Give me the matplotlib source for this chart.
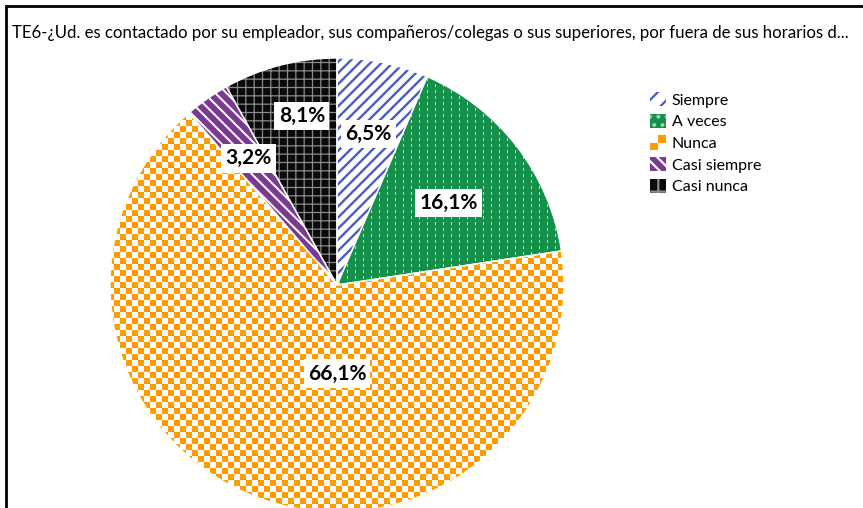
import numpy as np
import matplotlib
matplotlib.use("Agg")
import matplotlib.pyplot as plt
from matplotlib.patches import Patch, Wedge, Rectangle
from matplotlib.lines import Line2D
from matplotlib.legend_handler import HandlerBase

# ---- data ----
categories = ["Siempre", "A veces", "Nunca", "Casi siempre", "Casi nunca"]
values = [6.5, 16.1, 66.1, 3.2, 8.1]
title = ("TE6-¿Ud. es contactado por su empleador, sus compañeros/colegas o sus "
         "superiores, por fuera de sus horarios d...")

# ---- style ----
W, H = 863, 508
plt.rcParams['hatch.linewidth'] = 1.6
fig = plt.figure(figsize=(W / 100, H / 100), dpi=100)
ax = fig.add_axes([0, 0, 1, 1])
ax.set_xlim(0, W)
ax.set_ylim(0, H)
ax.set_aspect('equal')
ax.axis('off')

center = (337, H - 285)
radius = 227

blue = '#4a5cc0'
green = '#14904a'
orange = '#ff9c00'
purple = '#7a3a92'
black = '#0a0a0a'

wedges, _ = ax.pie(values, center=center, radius=radius, startangle=90,
                   counterclock=False, frame=True,
                   wedgeprops=dict(linewidth=0))
ax.set_xlim(0, W)
ax.set_ylim(0, H)
ax.axis('off')

styles = [
    dict(face='white', hatch_col=blue, hatch='///', hlw=1.7),
    dict(face=green, hatch_col=None, hatch=None, hlw=1.0),
    dict(face=orange, hatch_col=None, hatch=None, hlw=1.0),
    dict(face=purple, hatch_col='white', hatch='\\\\\\', hlw=1.4),
    dict(face=black, hatch_col='#8a8a8a', hatch='++', hlw=0.9),
]
for w, st in zip(wedges, styles):
    w.set_facecolor(st['face'])
    w.set_linewidth(0)
    if st['hatch']:
        w.set_edgecolor(st['hatch_col'])
        w.set_hatch(st['hatch'])
        if hasattr(w, 'set_hatch_linewidth'):
            w.set_hatch_linewidth(st['hlw'])

# textures via images clipped by wedges
yy, xx = np.mgrid[0:H, 0:W]
def rgb(c):
    return np.array(matplotlib.colors.to_rgb(c))

# checkerboard for Nunca
cell = 6
chk = ((xx // cell + yy // cell) % 2).astype(bool)
img_n = np.ones((H, W, 3))
img_n[chk] = rgb(orange)
im = ax.imshow(img_n, extent=(0, W, 0, H), origin='upper', interpolation='nearest', zorder=2)
im.set_clip_path(wedges[2])

# dashes for A veces
img_a = np.ones((H, W, 3)) * rgb(green)
dash = ((xx % 8) == 3) & ((yy % 6) < 3)
img_a[dash] = np.array([0.72, 0.88, 0.78])
im2 = ax.imshow(img_a, extent=(0, W, 0, H), origin='upper', interpolation='nearest', zorder=2)
im2.set_clip_path(wedges[1])

# white separators
cum = 0
for v in values:
    t1 = 90 - (cum + v) * 3.6
    t2 = 90 - cum * 3.6
    ax.add_patch(Wedge(center, radius, t1, t2, facecolor='none',
                       edgecolor='white', linewidth=1.0, zorder=3))
    cum += v

# labels
label_r = [0.68, 0.61, 0.39, 0.68, 0.76]
label_dang = [0, -1.4, 20.3, 0, -2.8]
cum = 0
for v, fr, da in zip(values, label_r, label_dang):
    mid = 90 - (cum + v / 2) * 3.6 + da
    x = center[0] + fr * radius * np.cos(np.radians(mid))
    y = center[1] + fr * radius * np.sin(np.radians(mid))
    ax.text(x, y, f"{v:.1f}".replace('.', ',') + '%', ha='center', va='center',
            fontsize=15, fontweight='bold', family='Lato', color='black', zorder=5,
            bbox=dict(boxstyle='square,pad=0.2', facecolor='white', edgecolor='none'))
    cum += v


class CheckerHandler(HandlerBase):
    def create_artists(self, legend, orig_handle, xdescent, ydescent, width, height,
                       fontsize, trans):
        arts = []
        hw, hh = width / 2, height / 2
        for i in range(2):
            for j in range(2):
                c = orange if (i + j) % 2 == 0 else 'white'
                arts.append(Rectangle((-xdescent + i * hw, -ydescent + j * hh), hw, hh,
                                      facecolor=c, edgecolor='none', transform=trans))
        return arts


# legend
nunca_handle = Patch(facecolor=orange)
handles = [
    Patch(facecolor='white', edgecolor=blue, hatch='//', linewidth=0),
    Patch(facecolor=green, edgecolor='#9fd4b4', hatch='..', linewidth=0),
    nunca_handle,
    Patch(facecolor=purple, edgecolor='white', hatch='\\\\\\', linewidth=0),
    Patch(facecolor=black, edgecolor='#8c8c8c', hatch='+', linewidth=0),
]
leg = fig.legend(handles, categories, loc='upper left', bbox_to_anchor=(650 / W, 1 - 92 / H),
                 frameon=False, prop=dict(family='Lato', size=11.5),
                 handlelength=1.0, handleheight=1.0, handletextpad=0.35,
                 labelspacing=0.38, borderpad=0, borderaxespad=0,
                 handler_map={nunca_handle: CheckerHandler()})

# title
ax.text(12, H - 33, title, ha='left', va='center', fontsize=12.1, family='Lato', color='black')

# border (left and top)
ax.add_line(Line2D([6, 6, W], [0, H - 6, H - 6], color='black', linewidth=2.0,
                   solid_joinstyle='miter', zorder=10))

fig.savefig('out.png', dpi=100)
